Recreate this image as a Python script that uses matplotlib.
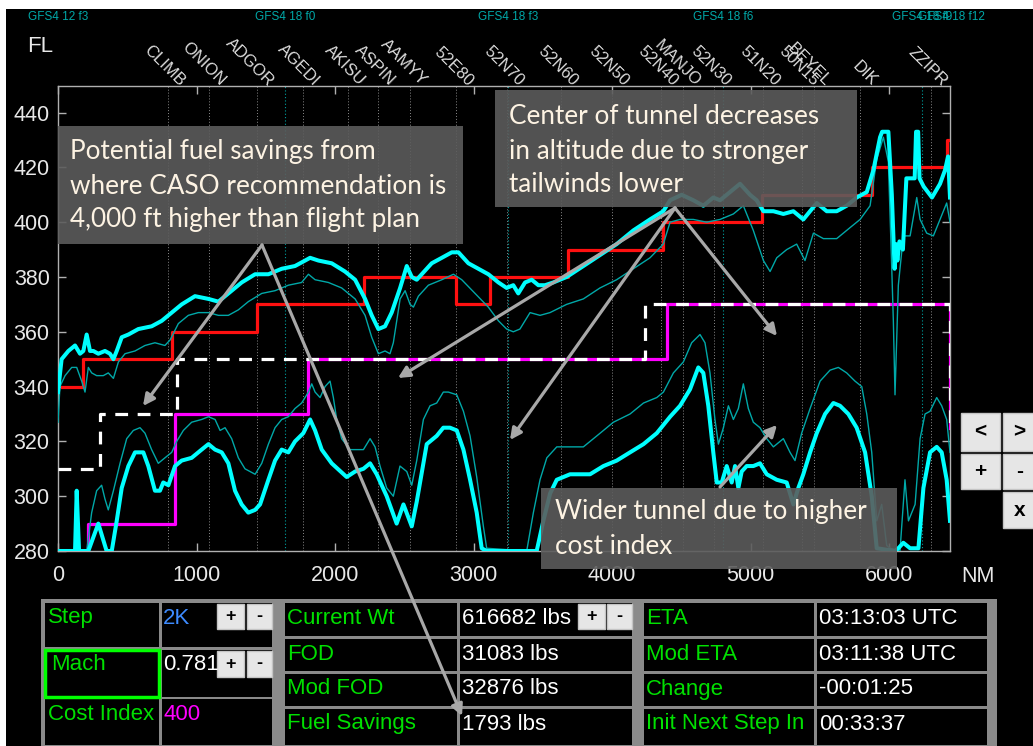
import matplotlib.pyplot as plt
from matplotlib.patches import Rectangle
import numpy as np

plt.rcParams['font.family'] = ['Liberation Sans', 'DejaVu Sans']

# waypoints along the route (NM)
waypoints = ['CLIMB', 'ONION', 'ADGOR', 'AGEDI', 'AKISU', 'ASPIN', 'AAMYY', '52E80',
             '52N70', '52N60', '52N50', '52N40', 'MANJO', '52N30', '51N20', '50N15',
             'BEYEL', 'DIK', 'ZZIPR']
waypoint_nm = [794, 1090, 1437, 1769, 2094, 2310, 2541, 2874,
               3242, 3630, 4000, 4350, 4515, 4735, 5090, 5370,
               5455, 5790, 6300]

gfs_labels = ['GFS4 12 f3', 'GFS4 18 f0', 'GFS4 18 f3', 'GFS4 18 f6', 'GFS4 18 f9', 'GFS4 18 f12']
gfs_nm = [0, 1640, 3250, 4800, 6240, 6450]

# flight plan altitude (red steps)
plan_nm = [30, 180, 820, 1440, 2210, 2870, 3120, 3680, 4370, 5080, 5880, 6420, 6440]
plan_fl = [340, 350, 360, 370, 380, 370, 380, 390, 400, 410, 420, 430, 430]

# CASO recommendation (magenta) and 2K-step profile (white dashed)
caso_nm = [217, 217, 845, 1805, 4397, 6437]
caso_fl = [280, 290, 330, 350, 370, 325]
step_nm = [0, 303, 859, 4238, 6437]
step_fl = [310, 330, 350, 370, 325]

# tunnel upper bound (thick) and inner upper (thin)
up_nm = [0, 26, 75, 123, 159, 183, 207, 231, 255, 291, 339, 375, 400, 424, 460, 508, 580,
         676, 749, 821, 893, 989, 1086, 1158, 1230, 1326, 1423, 1519, 1615, 1711, 1784,
         1820, 1880, 1976, 2072, 2145, 2217, 2265, 2313, 2361, 2409, 2470, 2518, 2554,
         2590, 2626, 2698, 2771, 2843, 2891, 2963, 3035, 3107, 3180, 3239, 3287, 3323,
         3372, 3420, 3468, 3516, 3576, 3672, 3793, 3913, 4033, 4154, 4274, 4370, 4419,
         4503, 4587, 4659, 4731, 4780, 4852, 4924, 4996, 5044, 5093, 5165, 5237, 5309,
         5381, 5478, 5550, 5622, 5694, 5766, 5839, 5887, 5935, 5950, 5995, 6020, 6040,
         6050, 6060, 6075, 6100, 6125, 6185, 6195, 6210, 6220, 6250, 6310, 6368, 6404,
         6426, 6440]
up_fl = [338, 350, 353, 355, 352, 353, 359, 353, 353, 352, 353, 352, 350, 353, 358, 359, 361,
         362, 364, 367, 370, 373, 372, 371, 374, 378, 381, 381, 383, 384, 386,
         387, 386, 385, 382, 379, 372, 366, 361, 362, 367, 376, 384, 380,
         379, 381, 385, 387, 389, 389, 385, 383, 381, 378, 376, 377, 374,
         378, 379, 377, 377, 378, 380, 384, 388, 392, 397, 401, 404, 408,
         410, 408, 406, 409, 408, 411, 414, 410, 408, 404, 404, 403, 404,
         401, 407, 404, 404, 406, 409, 411, 419, 431, 433, 433, 410, 383,
         392, 386, 393, 390, 416, 416, 433, 433, 416, 413, 409, 414, 419,
         424, 409]

upin_nm = [0, 14, 51, 99, 135, 171, 195, 219, 243, 279, 327, 363, 400, 436, 484, 556, 628,
           700, 772, 809, 869, 941, 1013, 1086, 1158, 1230, 1302, 1374, 1471, 1567, 1663,
           1759, 1808, 1856, 1952, 2048, 2145, 2217, 2265, 2313, 2361, 2397, 2421, 2470,
           2506, 2542, 2566, 2602, 2674, 2771, 2855, 2915, 3011, 3107, 3180, 3239, 3287,
           3335, 3408, 3480, 3552, 3672, 3793, 3913, 4033, 4154, 4274, 4370, 4419, 4491,
           4587, 4683, 4780, 4876, 4948, 5020, 5093, 5141, 5189, 5261, 5333, 5393, 5454,
           5526, 5622, 5718, 5791, 5863, 5911, 5959, 5995, 6019, 6031, 6043, 6067, 6103,
           6152, 6200, 6224, 6272, 6320, 6368, 6416, 6440]
upin_fl = [327, 340, 344, 347, 347, 342, 338, 347, 345, 344, 344, 345, 343, 349, 352, 353, 355,
           356, 355, 357, 363, 366, 367, 367, 366, 366, 368, 371, 374, 375, 377,
           378, 381, 379, 378, 376, 372, 366, 358, 352, 353, 352, 356, 372,
           375, 370, 369, 373, 377, 379, 381, 379, 374, 369, 364, 361, 360,
           361, 367, 366, 367, 370, 372, 376, 379, 383, 387, 392, 400, 401,
           401, 400, 401, 403, 406, 397, 386, 382, 387, 390, 392, 386, 396,
           394, 394, 398, 401, 406, 423, 431, 422, 384, 364, 337, 377, 395,
           395, 409, 401, 396, 395, 401, 407, 400]

# tunnel lower bound (thick) and inner lower (thin)
low_nm = [0, 123, 135, 152, 219, 291, 351, 388, 424, 460, 508, 556, 616, 652, 700, 736, 760,
          797, 845, 893, 965, 1037, 1086, 1134, 1182, 1230, 1278, 1326, 1374, 1423, 1459,
          1519, 1567, 1615, 1663, 1711, 1771, 1820, 1856, 1904, 1976, 2084, 2145, 2205,
          2253, 2301, 2373, 2445, 2494, 2554, 2590, 2662, 2734, 2782, 2830, 2879, 2927,
          2975, 3023, 3059, 3095, 3456, 3504, 3553, 3601, 3697, 3793, 3841, 3938, 4034,
          4130, 4227, 4323, 4419, 4491, 4563, 4623, 4659, 4695, 4731, 4756, 4792, 4828,
          4864, 4888, 4912, 4936, 4972, 5020, 5068, 5117, 5189, 5261, 5309, 5345, 5381,
          5430, 5478, 5538, 5598, 5646, 5706, 5766, 5827, 5875, 5911, 6043, 6067, 6103,
          6152, 6212, 6248, 6296, 6344, 6380, 6416, 6440]
low_fl = [280, 280, 302, 280, 280, 290, 280, 280, 291, 303, 311, 316, 316, 311, 302, 302, 305,
          304, 311, 313, 314, 317, 319, 317, 316, 312, 302, 297, 294, 295, 297,
          306, 313, 317, 316, 320, 323, 328, 324, 317, 312, 307, 309, 310,
          312, 308, 300, 290, 297, 289, 298, 319, 322, 325, 325, 324, 317,
          306, 294, 281, 280, 280, 291, 301, 306, 308, 308, 308, 311, 313,
          316, 319, 323, 329, 333, 339, 347, 345, 333, 316, 305, 305, 311,
          305, 311, 303, 309, 311, 311, 312, 308, 306, 305, 297, 303, 308,
          316, 323, 330, 334, 333, 330, 325, 316, 300, 281, 280, 281, 283,
          281, 281, 303, 316, 318, 316, 306, 291]

lowin_nm = [207, 243, 279, 315, 339, 363, 400, 448, 496, 544, 592, 628, 676, 724, 772, 821,
            857, 905, 965, 1037, 1086, 1134, 1170, 1206, 1254, 1302, 1350, 1423, 1471, 1519,
            1567, 1615, 1663, 1711, 1759, 1808, 1832, 1856, 1892, 1928, 1964, 1988, 2012,
            2048, 2108, 2205, 2253, 2289, 2325, 2373, 2421, 2469, 2518, 2554, 2590, 2638,
            2686, 2734, 2782, 2818, 2879, 2927, 2975, 3023, 3071, 3095, 3384, 3432, 3480,
            3529, 3601, 3697, 3793, 3890, 4010, 4130, 4227, 4323, 4371, 4443, 4515, 4575,
            4635, 4671, 4707, 4743, 4768, 4804, 4840, 4876, 4912, 4948, 4984, 5020, 5068,
            5117, 5165, 5237, 5285, 5321, 5369, 5430, 5502, 5574, 5634, 5694, 5754, 5803,
            5839, 5875, 5911, 5947, 5983, 6007, 6079, 6115, 6140, 6188, 6224, 6260, 6296,
            6344, 6380, 6416, 6440]
lowin_fl = [280, 294, 302, 304, 299, 295, 302, 312, 321, 324, 325, 323, 317, 312, 314, 316,
            320, 324, 327, 328, 329, 328, 324, 325, 321, 314, 310, 308, 312, 319,
            325, 328, 329, 332, 334, 338, 341, 338, 336, 340, 342, 336, 328,
            321, 317, 317, 321, 318, 311, 303, 300, 311, 309, 304, 313, 328,
            333, 334, 338, 338, 337, 331, 322, 307, 289, 281, 280, 294, 306,
            314, 318, 318, 318, 322, 327, 330, 334, 336, 338, 345, 349, 356,
            359, 356, 345, 328, 319, 325, 333, 328, 332, 341, 332, 327, 325,
            321, 318, 321, 316, 313, 323, 332, 342, 346, 347, 345, 342, 340,
            330, 316, 291, 297, 282, 281, 280, 306, 291, 297, 321, 330, 331,
            336, 333, 328, 316]

# table contents
left_rows = [('Step', '2K', '#3d8bff'), ('Mach', '0.781', 'white'), ('Cost Index', '400', '#ff00ff')]
mid_rows = [('Current Wt', '616682 lbs'), ('FOD', '31083 lbs'), ('Mod FOD', '32876 lbs'),
            ('Fuel Savings', '1793 lbs')]
right_rows = [('ETA', '03:13:03 UTC'), ('Mod ETA', '03:11:38 UTC'), ('Change', '-00:01:25'),
              ('Init Next Step In', '00:33:37')]

W, H = 1033, 746
fig = plt.figure(figsize=(W / 100, H / 100), dpi=100, facecolor='white')

# black panel behind everything
bg = fig.add_axes([0, 0, 1, 1], zorder=0)
bg.set_xlim(0, W)
bg.set_ylim(H, 0)
bg.axis('off')
bg.add_patch(Rectangle((6, 9), W, H, facecolor='black', edgecolor='none'))

ax = fig.add_axes([58 / W, 1 - 551 / H, 892 / W, 465 / H], zorder=1)
ax.set_facecolor('black')
ax.set_xlim(0, 6440)
ax.set_ylim(280, 449.7)

for nm in waypoint_nm:
    ax.axvline(nm, color='#8a8a8a', ls=(0, (1, 2)), lw=0.7, zorder=1)
for nm in gfs_nm[1:]:
    ax.axvline(nm, color='#00a0a0', ls=(0, (1, 2)), lw=0.8, zorder=1)

ax.step(plan_nm, plan_fl, where='post', color='#ff1010', lw=2.3, zorder=3)
ax.step(caso_nm, caso_fl, where='post', color='#ff00ff', lw=2.3, zorder=3)
ax.step(step_nm, step_fl, where='post', color='white', lw=2.3, dashes=(4, 3), zorder=4)

ax.plot(upin_nm, upin_fl, color='#00a8a8', lw=1.0, zorder=5)
ax.plot(lowin_nm, lowin_fl, color='#00a8a8', lw=1.0, zorder=5)
ax.plot(up_nm, up_fl, color='#00ffff', lw=2.9, zorder=6)
ax.plot(low_nm, low_fl, color='#00ffff', lw=2.9, zorder=6)

ax.set_xticks(range(0, 6001, 1000))
ax.set_yticks(range(280, 441, 20))
ax.tick_params(direction='in', top=True, right=True, length=6, width=1, color='#b0b0b0',
               labelcolor='#e8e8e8', labelsize=15.5)
ax.tick_params(axis='x', pad=10)
ax.tick_params(axis='y', pad=6)
for s in ax.spines.values():
    s.set_color('#b0b0b0')
    s.set_linewidth(1)

for name, nm in zip(waypoints, waypoint_nm):
    ax.text(nm + 65, 0.994, name, transform=ax.get_xaxis_transform(), rotation=-45,
            rotation_mode='anchor', ha='right', va='bottom', color='#dcdcdc', fontsize=12,
            clip_on=False)
for name, nm in zip(gfs_labels, gfs_nm):
    ax.text(nm, 1.148, name, transform=ax.get_xaxis_transform(), ha='center', va='center',
            color='#00a8a8', fontsize=8.5, clip_on=False)

# overlay in pixel coordinates: notes, arrows, table and buttons
ov = fig.add_axes([0, 0, 1, 1], zorder=2)
ov.set_xlim(0, W)
ov.set_ylim(H, 0)
ov.axis('off')
ov.patch.set_visible(False)

ov.text(40, 47, 'FL', color='#e8e8e8', fontsize=16, ha='center', va='center')
ov.text(978, 577, 'NM', color='#e8e8e8', fontsize=15.5, ha='center', va='center')

note_font = ['Lato', 'DejaVu Sans']
notes = [
    ((58, 126, 405, 118), 70, [152, 186, 220],
     ['Potential fuel savings from', 'where CASO recommendation is',
      '4,000 ft higher than flight plan']),
    ((495, 90, 362, 117), 509, [116, 151, 184],
     ['Center of tunnel decreases', 'in altitude due to stronger', 'tailwinds lower']),
    ((541, 488, 356, 81), 555, [512, 546],
     ['Wider tunnel due to higher', 'cost index']),
]
for (x0, y0, w, h), tx, tys, lines in notes:
    ov.add_patch(Rectangle((x0, y0), w, h, facecolor='#5c5c5c', edgecolor='none', alpha=0.9))
    for ty, line in zip(tys, lines):
        ov.text(tx, ty, line, color='#fdf3e3', fontsize=18.8, family=note_font,
                ha='left', va='center')

arrow_kw = dict(arrowstyle='-|>', color='#a8a8a8', lw=2.3, mutation_scale=17,
                shrinkA=0, shrinkB=0)
for start, end in [((262, 245), (143, 406)), ((262, 245), (462, 716)),
                   ((675, 208), (398, 378)), ((675, 208), (510, 440)),
                   ((675, 208), (777, 336)), ((720, 487), (777, 425))]:
    ov.annotate('', xy=end, xytext=start, arrowprops=arrow_kw)

# side buttons
def button(x0, y0, x1, y1, label, fs=15):
    ov.add_patch(Rectangle((x0, y0), x1 - x0, y1 - y0, facecolor='#e6e6e6',
                           edgecolor='#c4c4c4', lw=1))
    ov.text((x0 + x1) / 2, (y0 + y1) / 2, label, color='black', fontsize=fs,
            fontweight='bold', ha='center', va='center')

button(961, 413, 1000, 451, '<')
button(1003, 413, 1036, 451, '>')
button(961, 454, 1000, 489, '+')
button(1003, 454, 1036, 489, '-')
button(1003, 492, 1036, 528, 'x')

# table
ov.add_patch(Rectangle((41, 599), 956, 160, facecolor='#8a8a8a', edgecolor='none'))

def cell(x0, y0, x1, y1):
    ov.add_patch(Rectangle((x0, y0), x1 - x0, y1 - y0, facecolor='black', edgecolor='none'))

green = '#00e000'
left_y = [(603, 647), (650, 697), (699, 745)]
for (lab, val, vc), (y0, y1) in zip(left_rows, left_y):
    cell(45, y0, 159, y1)
    cell(162, y0, 272, y1)
    ty = y0 + 15
    ov.text(48 if lab != 'Mach' else 51, ty, lab, color=green, fontsize=16, va='center')
    ov.text(163, ty, val, color=vc, fontsize=16, va='center')
ov.add_patch(Rectangle((45, 650), 114, 47, facecolor='none', edgecolor='#00ff00', lw=2.5))
button(217, 604, 244, 629, '+', 13)
button(247, 604, 272, 629, '-', 13)
button(217, 651, 244, 677, '+', 13)
button(247, 651, 272, 677, '-', 13)

row_y = [(603, 636), (639, 671), (674, 706), (709, 745)]
for (lab, val), (y0, y1) in zip(mid_rows, row_y):
    cell(285, y0, 457, y1)
    cell(460, y0, 632, y1)
    ov.text(287, y0 + 15, lab, color=green, fontsize=16, va='center')
    ov.text(462, y0 + 15, val, color='white', fontsize=16, va='center')
for (lab, val), (y0, y1) in zip(right_rows, row_y):
    cell(644, y0, 814, y1)
    cell(817, y0, 987, y1)
    ov.text(646, y0 + 15, lab, color=green, fontsize=16, va='center')
    ov.text(819, y0 + 15, val, color='white', fontsize=16, va='center')
button(578, 604, 605, 629, '+', 13)
button(607, 604, 632, 629, '-', 13)

fig.savefig('out.png', dpi=100, facecolor='white')
